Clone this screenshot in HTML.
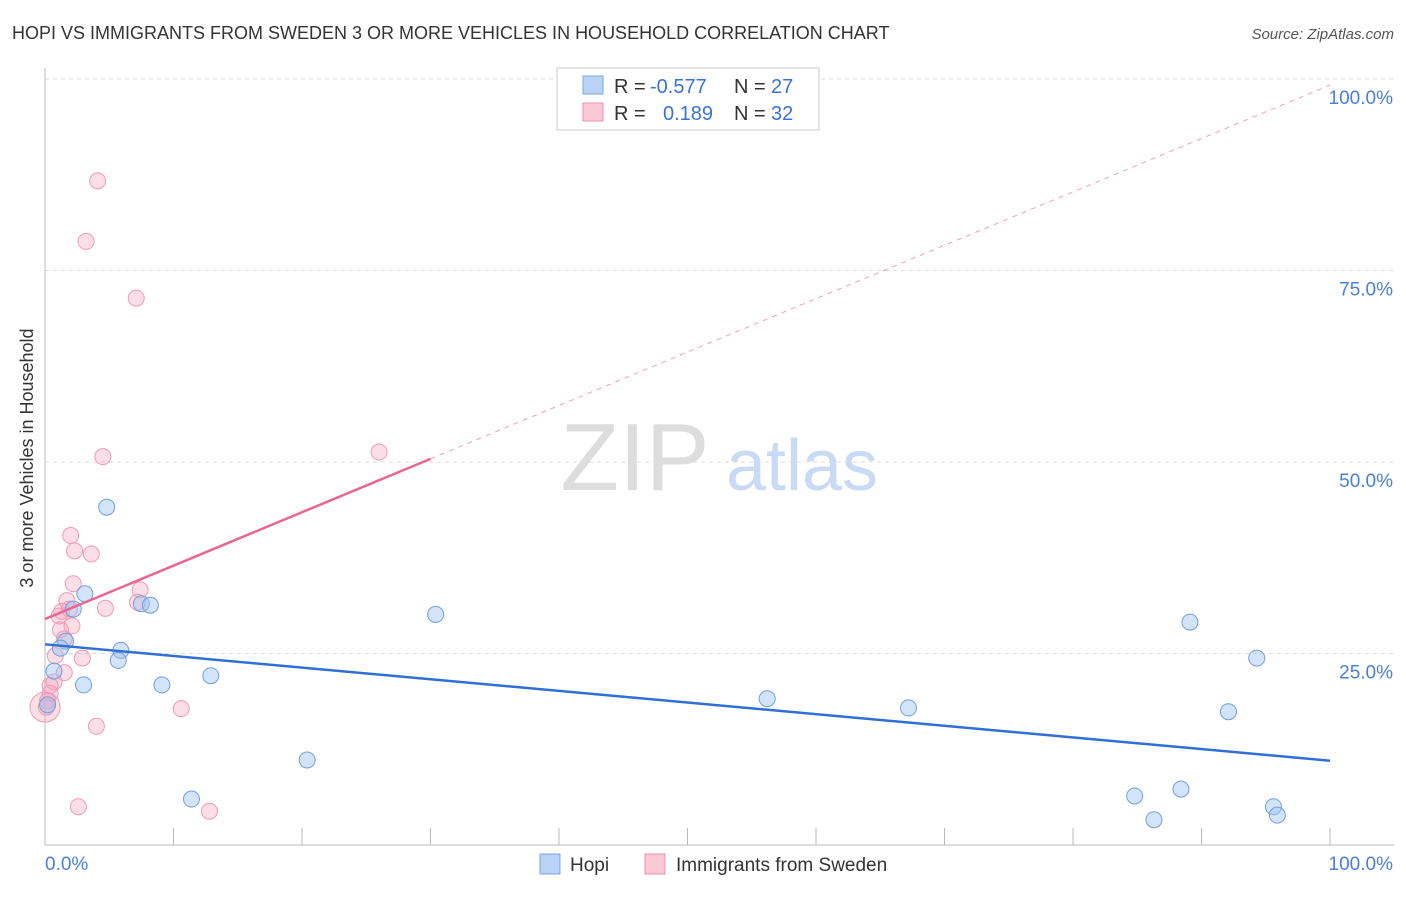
<!DOCTYPE html>
<html><head><meta charset="utf-8"><style>
body{margin:0;background:#fff;font-family:"Liberation Sans",sans-serif;}
svg text{font-family:"Liberation Sans",sans-serif;}
</style></head><body>
<svg id="chart" width="1406" height="892">
<text x="12" y="39" font-size="18" fill="#333">HOPI VS IMMIGRANTS FROM SWEDEN 3 OR MORE VEHICLES IN HOUSEHOLD CORRELATION CHART</text>
<text x="1394" y="39" font-size="15" fill="#555" text-anchor="end" font-style="italic">Source: ZipAtlas.com</text>
<text x="33" y="458" font-size="18" fill="#333" text-anchor="middle" transform="rotate(-90 33 458)">3 or more Vehicles in Household</text>
<g id="grid"></g>
<text x="635" y="490" font-size="96" fill="#ddd" text-anchor="middle" font-family="Liberation Serif">ZIP</text>
<text x="802" y="490" font-size="72" fill="#c9daf5" text-anchor="middle">atlas</text>
<g id="marks"></g>
<g>
<rect x="557" y="68" width="262" height="62" fill="#fff" stroke="#ccc"/>
<rect x="583" y="76" width="20" height="18" fill="#b8d3f5" stroke="#7aa6e0"/>
<text x="614" y="93" font-size="20" fill="#333">R =</text>
<text x="650" y="93" font-size="20" fill="#3a72d8">-0.577</text>
<text x="734" y="93" font-size="20" fill="#333">N =</text>
<text x="771" y="93" font-size="20" fill="#3a72d8">27</text>
<rect x="583" y="103" width="20" height="18" fill="#fbc8d6" stroke="#ef8fab"/>
<text x="614" y="120" font-size="20" fill="#333">R =</text>
<text x="663" y="120" font-size="20" fill="#3a72d8">0.189</text>
<text x="734" y="120" font-size="20" fill="#333">N =</text>
<text x="771" y="120" font-size="20" fill="#3a72d8">32</text>
</g>
<g>
<rect x="540" y="854" width="20" height="20" fill="#b8d3f5" stroke="#7aa6e0"/>
<text x="570" y="871" font-size="19" fill="#333">Hopi</text>
<rect x="645" y="854" width="20" height="20" fill="#fbc8d6" stroke="#ef8fab"/>
<text x="676" y="871" font-size="19" fill="#333">Immigrants from Sweden</text>
</g>
</svg>
<script>
const hopiX=[4.8,3.1,2.2,1.6,1.2,0.7,3.0,0.2,5.9,5.7,7.5,8.2,9.1,12.9,20.4,11.4,30.4,56.2,67.2,89.1,94.3,92.1,84.8,88.4,86.3,95.6,95.9];
const hopiY=[44.1,32.8,30.8,26.6,25.7,22.7,20.9,18.3,25.4,24.1,31.5,31.3,20.9,22.1,11.1,6.0,30.1,19.1,17.9,29.1,24.4,17.4,6.4,7.3,3.3,5.0,3.9];
const swX=[4.1,3.2,7.1,4.5,26.0,2.0,2.3,3.6,2.2,1.7,7.4,7.2,4.7,1.3,1.9,1.1,2.1,1.2,1.5,2.9,0.8,1.5,0.7,0.4,0.4,0.2,0.1,10.6,4.0,2.6,12.8,0.0];
const swY=[86.7,78.8,71.4,50.7,51.3,40.4,38.4,38.0,34.1,31.9,33.3,31.7,30.9,30.5,30.8,29.9,28.6,28.1,26.9,24.4,24.7,22.5,21.3,20.8,19.8,18.8,18.0,17.8,15.5,5.0,4.4,18.0];
const swR=[8,8,8,8,8,8,8,8,8,8,8,8,8,8,8,8,8,8,8,8,8,8,8,8,8,8,8,8,8,8,8,15];
const hopiFit=[26.2,11.0];
const swFit=[29.5,99.2];
const yTicks=[25,50,75,100];
const X=v=>45+v*12.85, Y=v=>845-v*7.66;
const NS='http://www.w3.org/2000/svg';
const grid=document.getElementById('grid'),marks=document.getElementById('marks');
function mk(tag,attrs,parent){const e=document.createElementNS(NS,tag);for(const k in attrs)e.setAttribute(k,attrs[k]);parent.appendChild(e);return e;}
yTicks.forEach(t=>{
 const l=mk('line',{x1:45,x2:1394,y1:Y(t),y2:Y(t),stroke:'#ddd','stroke-dasharray':'4,4'},grid);
 
 
 const tx=mk('text',{x:1393,y:Y(t)+25,'font-size':19,fill:'#4a7fd8','text-anchor':'end'},grid);
 tx.textContent=t.toFixed(1)+'%';
 
 
});
const ax=mk('line',{x1:45,x2:45,y1:68,y2:845,stroke:'#bbb'},grid);


const bx=mk('line',{x1:45,x2:1394,y1:845,y2:845,stroke:'#bbb'},grid);


for(let i=0;i<=10;i++){const t=mk('line',{x1:X(i*10),x2:X(i*10),y1:828,y2:845,stroke:'#bbb'},grid);
 
 }
[['0.0%',45,'start'],['100.0%',1393,'end']].forEach(a=>{const t=mk('text',{x:a[1],y:870,'font-size':19,fill:'#4a7fd8','text-anchor':a[2]},grid);t.textContent=a[0];
 
 });
swX.forEach((v,i)=>{const c=mk('circle',{cx:X(v),cy:Y(swY[i]),r:swR[i],fill:'rgba(245,160,185,0.35)',stroke:'#ef9ab2','stroke-width':1},marks);
 
 });
hopiX.forEach((v,i)=>{const c=mk('circle',{cx:X(v),cy:Y(hopiY[i]),r:8,fill:'rgba(160,195,240,0.45)',stroke:'#6f9fde','stroke-width':1},marks);
 
 });
const sy=x=>swFit[0]+(swFit[1]-swFit[0])*x/100;
const d=mk('line',{x1:X(30),y1:Y(sy(30)),x2:X(100),y2:Y(sy(100)),stroke:'#eea0b8','stroke-dasharray':'5,5','stroke-width':1},marks);


const s=mk('line',{x1:X(0),y1:Y(sy(0)),x2:X(30),y2:Y(sy(30)),stroke:'#e8668f','stroke-width':2.5},marks);


const h=mk('line',{x1:X(0),y1:Y(hopiFit[0]),x2:X(100),y2:Y(hopiFit[1]),stroke:'#2f6fd6','stroke-width':2.5},marks);


</script>
</body></html>
